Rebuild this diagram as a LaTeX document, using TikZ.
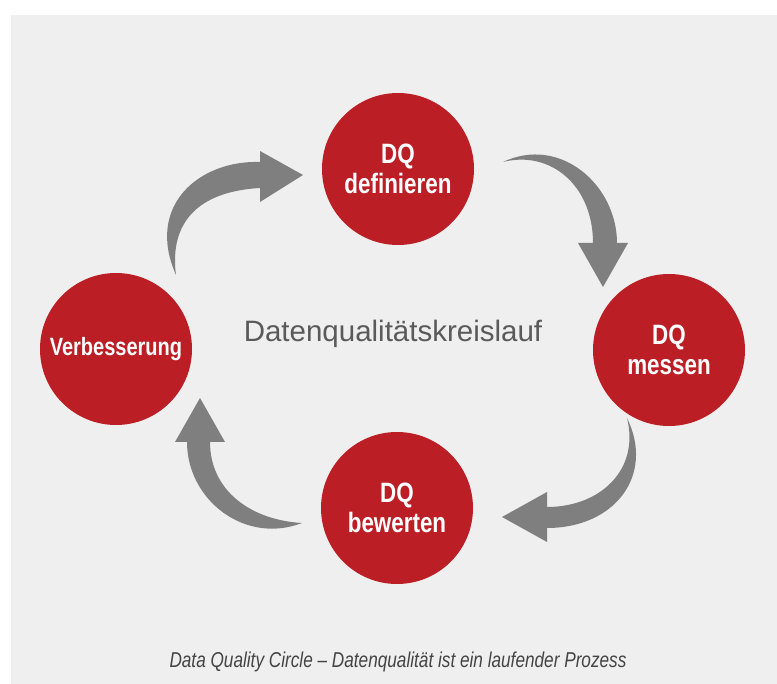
\documentclass[tikz,border=0pt]{standalone}
\usepackage{fontspec}
\setmainfont{Liberation Sans}
\newfontfamily\condfont[FakeStretch=0.8]{Liberation Sans}
\usepackage{xcolor}
\usetikzlibrary{positioning}
\definecolor{dqred}{HTML}{BC1E25}
\definecolor{arrowgray}{HTML}{7F7F7F}
\definecolor{bggray}{HTML}{EFEFEF}
\definecolor{titlegray}{HTML}{5A5A5A}
\definecolor{captiongray}{HTML}{444444}

\begin{document}
\begin{tikzpicture}[x=1pt, y=-1pt,
		phase/.style={circle, fill=dqred, text=white, minimum size=152pt, inner sep=0pt, align=center,
			font=\condfont\fontsize{28}{30}\selectfont\bfseries},
		turn/.style={fill=arrowgray}]
				\useasboundingbox (0,0) rectangle (777,684);
				\fill[bggray] (11,15) rectangle (777,684);
				\node[phase] (define) at (398,169) {DQ\\definieren};
				\node[phase] (measure) at (669,350) {DQ\\messen};
				\node[phase] (assess) at (397,508) {DQ\\bewerten};
				\node[phase, font=\condfont\fontsize{25}{27}\selectfont\bfseries] (improve) at (116,349) {Verbesserung};
				\node[anchor=base, text=titlegray, font=\fontsize{29.5}{32}\selectfont] (cycle) at (393,342) {Datenqualitätskreislauf};
				\fill[turn] (303,175) -- (260,151) -- (260,162) .. controls (200,160) and (145,205) .. (176,275)
					.. controls (170,230) and (190,192) .. (260,188) -- (260,202) -- cycle;
				\fill[turn] (603,287) -- (628,243) -- (617,243) .. controls (617,185) and (560,135) .. (503,162)
					.. controls (550,150) and (593,185) .. (593,243) -- (578,243) -- cycle;
				\fill[turn] (502,517) -- (547,542) -- (547,528) .. controls (615,528) and (655,475) .. (627,418)
					.. controls (640,470) and (600,507) .. (547,507) -- (547,492) -- cycle;
				\fill[turn] (200,398) -- (175,442) -- (187,442) .. controls (187,500) and (245,545) .. (302,523)
					.. controls (250,520) and (210,490) .. (210,442) -- (225,442) -- cycle;
				\node[anchor=base, text=captiongray, font=\condfont\itshape\fontsize{21.5}{24}\selectfont] (caption) at (398,667) {Data Quality Circle – Datenqualität ist ein laufender Prozess};
			\end{tikzpicture}
\end{document}
